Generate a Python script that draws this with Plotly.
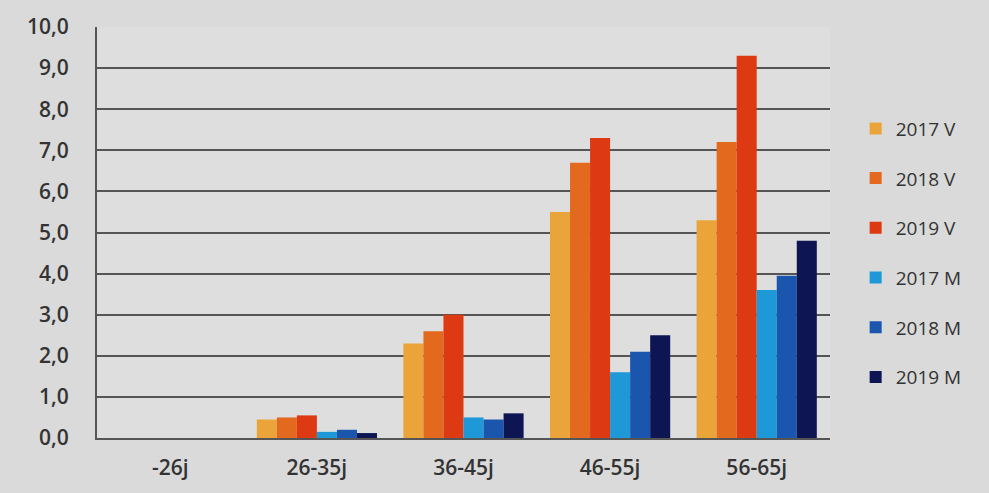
import plotly.graph_objects as go

categories = ["-26j", "26-35j", "36-45j", "46-55j", "56-65j"]
series_names = ["2017 V", "2018 V", "2019 V", "2017 M", "2018 M", "2019 M"]
v2017 = [0.0, 0.45, 2.3, 5.5, 5.3]
v2018 = [0.0, 0.5, 2.6, 6.7, 7.2]
v2019 = [0.0, 0.55, 3.0, 7.3, 9.3]
m2017 = [0.0, 0.15, 0.5, 1.6, 3.6]
m2018 = [0.0, 0.2, 0.45, 2.1, 3.95]
m2019 = [0.0, 0.12, 0.6, 2.5, 4.8]
y_ticks = [0, 1, 2, 3, 4, 5, 6, 7, 8, 9, 10]
y_tick_labels = ["0,0", "1,0", "2,0", "3,0", "4,0", "5,0", "6,0", "7,0", "8,0", "9,0", "10,0"]

values = [v2017, v2018, v2019, m2017, m2018, m2019]
colors = ["#EBA43A", "#E3691E", "#DD3A14", "#1E98D6", "#1A55AE", "#0D1652"]

fig = go.Figure()
for name, vals, col in zip(series_names, values, colors):
    fig.add_trace(go.Bar(
        x=categories, y=vals, name=name, legendgroup=name,
        marker=dict(color=col, line=dict(width=0)),
    ))

fig.update_layout(
    width=989, height=493,
    paper_bgcolor="#DADADA",
    plot_bgcolor="#DEDEDE",
    margin=dict(l=97, r=159, t=21, b=55),
    barmode="group",
    bargap=0.18,
    bargroupgap=0.0,
    font=dict(family="Open Sans", size=16, color="#333333"),
    showlegend=True,
    legend=dict(
        x=1.035, y=0.45, xanchor="left", yanchor="middle",
        traceorder="grouped", tracegroupgap=22,
        font=dict(size=19, color="#333333", weight=500),
        bgcolor="rgba(0,0,0,0)",
    ),
)
fig.update_yaxes(
    range=[0, 10], tickvals=y_ticks, ticktext=y_tick_labels,
    showgrid=True, gridcolor="#555555", gridwidth=2,
    showline=True, linecolor="#555555", linewidth=2,
    ticks="", ticklen=0, tickfont=dict(size=21, color="#333333", weight=600),
    ticklabelstandoff=22,
    zeroline=False,
)
fig.update_xaxes(
    showline=True, linecolor="#555555", linewidth=2,
    tickfont=dict(size=21, color="#333333", weight=600), ticks="",
    ticklabelstandoff=10,
)

fig.write_html("out.html", config={"displayModeBar": False},
               post_script="document.body.style.margin='0';")
